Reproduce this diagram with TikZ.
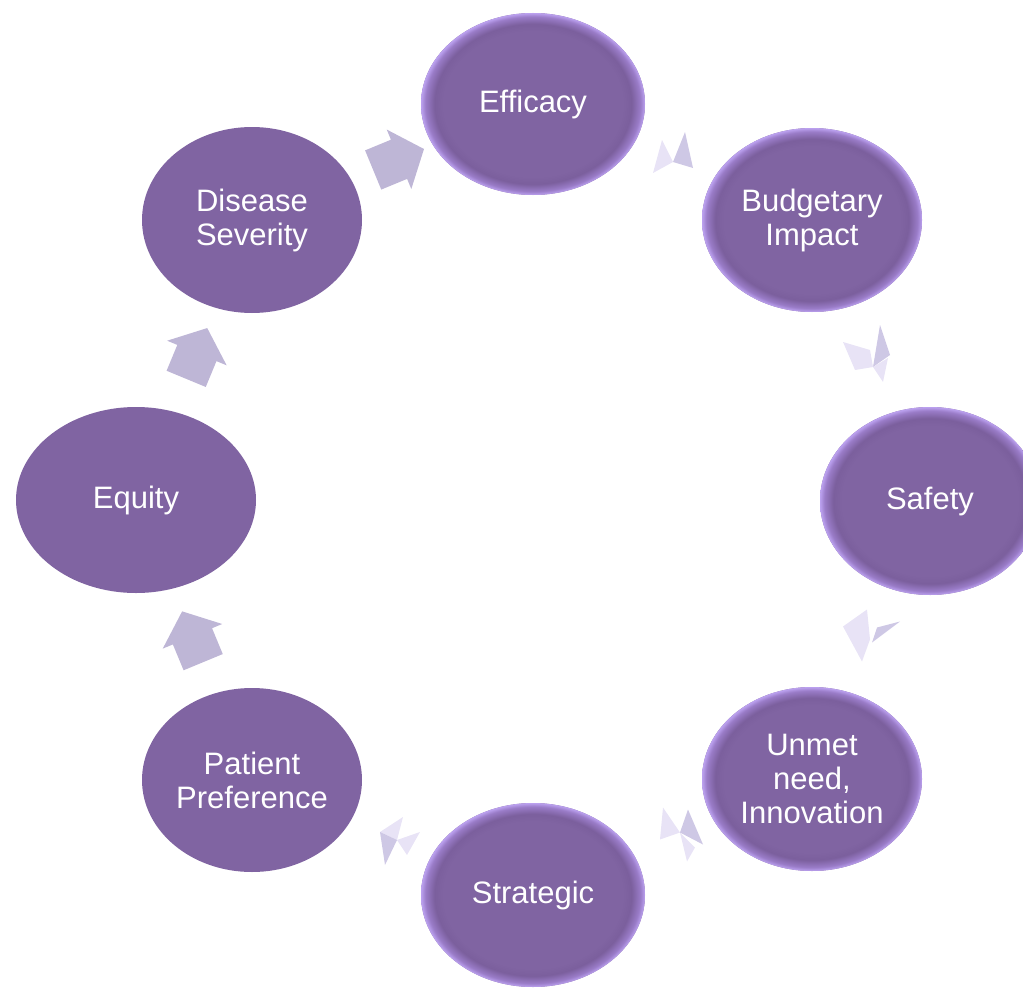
\documentclass[tikz,border=0pt]{standalone}
\usepackage{fontspec}
\setmainfont{Liberation Sans}
\usetikzlibrary{shapes.geometric,shapes.arrows,calc}
\definecolor{ep}{HTML}{8064A2}
\definecolor{epd}{HTML}{7B5F9D}
\definecolor{rimm}{HTML}{9A7CC8}
\definecolor{rimc}{HTML}{BCA2F0}
\definecolor{arr}{HTML}{BEB6D6}
\definecolor{fadeA}{HTML}{C6BEE0}
\definecolor{fadeB}{HTML}{E4DEF4}
\pgfdeclareradialshading{rimshade}{\pgfpoint{0bp}{0bp}}{color(0bp)=(ep);color(20bp)=(ep);color(22bp)=(epd);color(24bp)=(rimm);color(25bp)=(rimc);color(50bp)=(rimc)}
\tikzset{
  bub/.style={ellipse, inner sep=0pt, minimum width=220pt, minimum height=184pt,
    fill=ep, text=white, align=center, font=\fontsize{31}{34}\selectfont},
  glow/.style={bub, shading=rimshade},
  barrow/.style={single arrow, fill=arr, draw=none, inner xsep=0pt, inner ysep=0pt,
    minimum height=55pt, single arrow head extend=11pt,
    single arrow tip angle=100, allow upside down, sloped}
}
\tikzset{
  fa/.style={fill=fadeA, draw=none, opacity=0.85},
  fb/.style={fill=fadeB, draw=none, opacity=0.85}
}
\newcommand{\shaftrule}{\rule{0pt}{42pt}}
\begin{document}
\begin{tikzpicture}[x=1pt,y=-1pt]
\useasboundingbox (0,0) rectangle (1023,990);
\node[glow, minimum width=224pt, minimum height=182pt] (eff) at (533,104) {Efficacy};
\node[glow] (bi) at (812,220) {Budgetary\\Impact};
\node[glow, minimum height=188pt] (saf) at (930,501) {Safety};
\node[glow] (un) at (812,779) {Unmet\\need,\\Innovation};
\node[glow, minimum width=224pt] (str) at (533,895) {Strategic};
\node[bub] (pp) at (252,780) {Patient\\Preference};
\node[bub, minimum width=240pt, minimum height=186pt] (eq) at (136,500) {Equity};
\node[bub, minimum height=186pt] (ds) at (252,220) {Disease\\Severity};
% solid block arrows
\path (ds) -- (eff) node[barrow, pos=0.48] (a1) {\shaftrule};
\path (eq) -- (ds) node[barrow, pos=0.48] (a2) {\shaftrule};
\path (pp) -- (eq) node[barrow, pos=0.46] (a3) {\shaftrule};
% faded arrows
\begin{scope}[shift={($(eff)!0.5!(bi)$)}]
  \fill[fb] (-10.5,-22) -- (0.5,0) -- (-19.5,11) -- cycle;
  \fill[fa] (12.5,-30) -- (20.5,6) -- (0.5,0) -- cycle;
\end{scope}
\begin{scope}[shift={($(bi)!0.5!(saf)$)}]
  \fill[fb] (-28,-18.5) -- (-1,-10.5) -- (2,6.5) -- (-16,9.5) -- cycle;
  \fill[fa] (9,-35.5) -- (19,-5.5) -- (2,6.5) -- cycle;
  \fill[fb] (2,6.5) -- (17,-2.5) -- (12,21.5) -- cycle;
\end{scope}
\begin{scope}[shift={($(saf)!0.5!(un)$)}]
  \fill[fb] (-28,-13.5) -- (-4,-30.5) -- (-1,-0.5) -- (-9,21.5) -- cycle;
  \fill[fa] (29,-18.5) -- (6,-12.5) -- (1,2.5) -- cycle;
\end{scope}
\begin{scope}[shift={($(un)!0.5!(str)$)}]
  \fill[fb] (-9.5,-29.5) -- (7.5,-4.5) -- (-12.5,2.5) -- cycle;
  \fill[fa] (15.5,-27.5) -- (30.5,7.5) -- (7.5,-4.5) -- cycle;
  \fill[fb] (7.5,-4.5) -- (22.5,10.5) -- (14.5,24.5) -- cycle;
\end{scope}
\begin{scope}[shift={($(str)!0.5!(pp)$)}]
  \fill[fb] (-12.5,-5.5) -- (10.5,-20.5) -- (4.5,2.5) -- cycle;
  \fill[fa] (-12.5,-5.5) -- (4.5,2.5) -- (-7.5,27.5) -- cycle;
  \fill[fb] (4.5,2.5) -- (27.5,-5.5) -- (14.5,17.5) -- cycle;
\end{scope}
\end{tikzpicture}
\end{document}
